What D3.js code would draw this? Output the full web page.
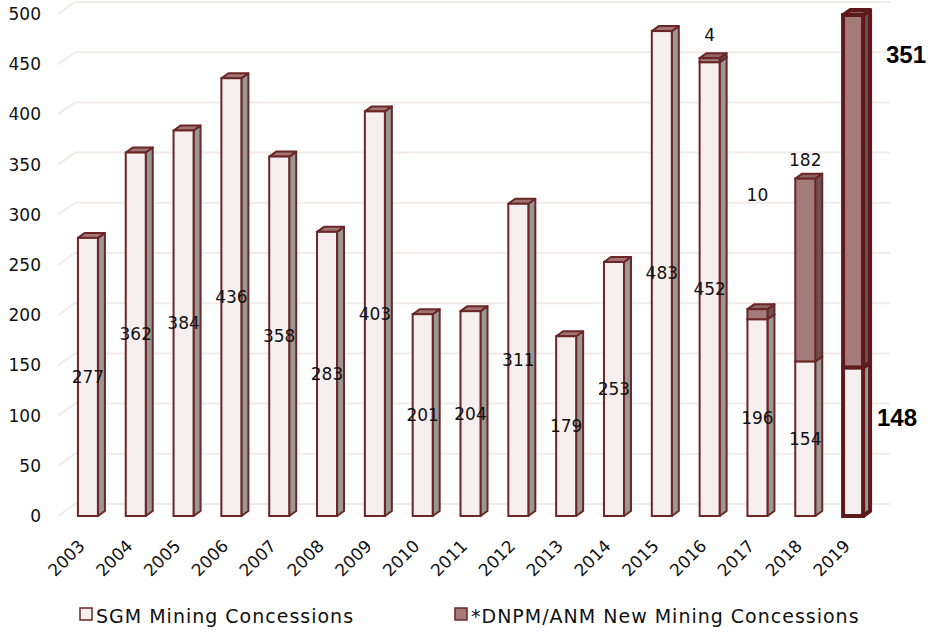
<!DOCTYPE html>
<html>
<head>
<meta charset="utf-8">
<script src="https://cdn.jsdelivr.net/npm/d3@7"></script>
<style>
  html, body { margin: 0; padding: 0; background: #ffffff; }
  svg { display: block; }
  text { font-family: "DejaVu Sans", sans-serif; fill: #111; }
  text.total { font-family: "Liberation Sans", Arial, sans-serif; font-weight: bold; font-size: 24px; fill: #000; }
</style>
</head>
<body>
<svg id="chart" width="933" height="634"></svg>
<script>
// Mining concessions granted per year
const years = ["2003","2004","2005","2006","2007","2008","2009","2010","2011","2012",
               "2013","2014","2015","2016","2017","2018","2019"];
const sgmValues  = [277, 362, 384, 436, 358, 283, 403, 201, 204, 311, 179, 253, 483, 452, 196, 154, 148];
const dnpmValues = [0, 0, 0, 0, 0, 0, 0, 0, 0, 0, 0, 0, 0, 4, 10, 182, 351];
const yTicks = [0, 50, 100, 150, 200, 250, 300, 350, 400, 450, 500];
const seriesNames = ["SGM Mining Concessions", "*DNPM/ANM New Mining Concessions"];

const svg = d3.select("#chart");

const x = d3.scaleBand().domain(years).range([64, 877]).padding(0);
const y = d3.scaleLinear().domain([0, 500]).range([516, 14]);

// perspective offsets: back wall and bar depth
const wallDx = 17, wallDy = -12;
const barW = 20, dx = 7, dy = -5;

// gridlines on floor edge + back wall
const grid = svg.append("g");
yTicks.forEach(t => {
  const yy = y(t);
  grid.append("path")
    .attr("d", `M58,${yy} L${58 + wallDx},${yy + wallDy} L890,${yy + wallDy}`)
    .attr("fill", "none")
    .attr("stroke", "#f3eaea")
    .attr("stroke-width", 2);
});

// y tick labels
svg.append("g").selectAll("text").data(yTicks).join("text")
  .attr("x", 41).attr("y", d => y(d)).attr("dy", "0.35em")
  .attr("text-anchor", "end").attr("font-size", 17)
  .text(d => d);

// x tick labels, rotated
svg.append("g").selectAll("text").data(years).join("text")
  .attr("text-anchor", "end").attr("font-size", 17)
  .attr("transform", d => `translate(${x(d) + x.bandwidth() / 2 - 2},${547}) rotate(-45)`)
  .text(d => d);

const styles = {
  sgm:  { front: "#f6eff0", side: "#9b9797", top: "#a27575" },
  dnpm: { front: "#a47b7b", side: "#6e5050", top: "#8d6363" }
};

function drawBox(g, x0, y0, y1, st, stroke, sw) {
  // y0 = bottom value pixel, y1 = top value pixel
  const x1 = x0 + barW;
  g.append("polygon")
    .attr("points", [[x1, y1], [x1 + dx, y1 + dy], [x1 + dx, y0 + dy], [x1, y0]].join(" "))
    .attr("fill", st.side).attr("stroke", stroke).attr("stroke-width", sw).attr("stroke-linejoin", "round");
  g.append("polygon")
    .attr("points", [[x0, y1], [x0 + dx, y1 + dy], [x1 + dx, y1 + dy], [x1, y1]].join(" "))
    .attr("fill", st.top).attr("stroke", stroke).attr("stroke-width", sw).attr("stroke-linejoin", "round");
  g.append("rect")
    .attr("x", x0).attr("y", y1).attr("width", barW).attr("height", y0 - y1)
    .attr("fill", st.front).attr("stroke", stroke).attr("stroke-width", sw);
}

const bars = svg.append("g");
years.forEach((yr, i) => {
  const last = i === years.length - 1;
  const stroke = last ? "#5e1a1a" : "#6b2626";
  const sw = last ? 4 : 2;
  const x0 = x(yr) + (x.bandwidth() - barW) / 2;
  const g = bars.append("g");
  const s = sgmValues[i], d = dnpmValues[i];
  drawBox(g, x0, y(0), y(s), styles.sgm, stroke, sw);
  if (d > 0) drawBox(g, x0, y(s), y(s + d), styles.dnpm, stroke, sw);
});

// value labels
const labels = svg.append("g");
// vertical nudges for labels that sit above the stacked total
const aboveNudge = { "2016": -23, "2017": -114, "2018": -19 };
years.forEach((yr, i) => {
  const cx = x(yr) + x.bandwidth() / 2;
  const s = sgmValues[i], d = dnpmValues[i];
  if (yr === "2019") {
    labels.append("text").attr("class", "total").attr("x", 877).attr("y", 418).attr("dy", "0.35em").text(s);
    labels.append("text").attr("class", "total").attr("x", 886).attr("y", 55).attr("dy", "0.35em").text(d);
    return;
  }
  labels.append("text").attr("x", cx).attr("y", y(s / 2)).attr("dy", "0.35em")
    .attr("text-anchor", "middle").attr("font-size", 17).text(s);
  if (d > 0) {
    labels.append("text").attr("x", cx).attr("y", y(s + d) + aboveNudge[yr]).attr("dy", "0.35em")
      .attr("text-anchor", "middle").attr("font-size", 17).text(d);
  }
});

// legend
const legend = svg.append("g");
const legendItems = [
  { name: seriesNames[0], fill: styles.sgm.front, x: 80 },
  { name: seriesNames[1], fill: styles.dnpm.front, x: 455 }
];
legendItems.forEach(it => {
  legend.append("rect").attr("x", it.x).attr("y", 608).attr("width", 12).attr("height", 12)
    .attr("fill", it.fill).attr("stroke", "#6b2626").attr("stroke-width", 1.5);
  legend.append("text").attr("x", it.x + 16).attr("y", 621).attr("dy", "0.1em")
    .attr("font-size", 19).attr("letter-spacing", 1).text(it.name);
});
</script>
</body>
</html>
